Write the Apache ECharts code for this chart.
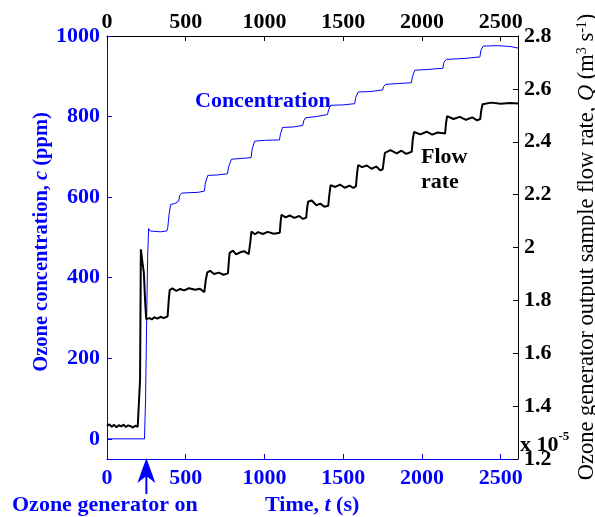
<!DOCTYPE html>
<html>
<head>
<meta charset="utf-8">
<script src="https://cdn.jsdelivr.net/npm/echarts@6/dist/echarts.min.js"></script>
<style>html,body{margin:0;padding:0;background:#fff;}#c{width:595px;height:517px;}</style>
</head>
<body>
<div id="c"></div>
<script>
// ---- data ----
const concTime = [0,238,245,252,258,264,275,300,340,380,386,395,405,430,455,462,475,520,580,618,625,640,700,765,772,790,850,915,922,937,1000,1095,1102,1115,1180,1243,1250,1262,1330,1400,1408,1420,1500,1573,1580,1595,1670,1750,1757,1770,1850,1933,1940,1955,2040,2133,2140,2155,2260,2368,2375,2390,2480,2560,2610];
const concValue = [0,0,100,300,450,522,516,515,514,516,525,560,582,584,590,605,610,611,612,615,635,654,655,658,675,694,696,698,720,739,741,742,758,773,774,778,790,797,800,805,818,828,829,832,848,861,862,866,875,880,882,884,900,915,917,920,935,942,944,948,965,975,976,974,970];
const flowTime = [0,15,30,45,60,75,90,105,120,135,150,165,180,195,205,210,215,228,234,242,249,260,270,285,300,320,340,360,385,392,398,415,440,465,490,520,560,590,600,618,628,637,655,680,710,740,768,774,779,800,820,845,870,900,910,917,940,960,990,1020,1060,1097,1103,1108,1135,1160,1190,1220,1245,1265,1271,1277,1300,1330,1355,1380,1405,1412,1420,1450,1480,1510,1540,1565,1581,1588,1595,1620,1650,1680,1710,1735,1751,1758,1765,1800,1840,1870,1900,1935,1942,1950,1990,2030,2065,2100,2147,2153,2160,2200,2240,2280,2320,2350,2370,2377,2385,2440,2500,2560,2610];
const flowValue = [1.325,1.331,1.322,1.329,1.320,1.328,1.323,1.330,1.321,1.327,1.324,1.319,1.326,1.322,1.326,1.5,1.993,1.93,1.905,1.8,1.729,1.722,1.733,1.728,1.736,1.731,1.738,1.733,1.740,1.80,1.839,1.845,1.836,1.843,1.838,1.846,1.840,1.844,1.837,1.831,1.88,1.906,1.912,1.900,1.905,1.897,1.902,1.95,1.980,1.988,1.974,1.982,1.986,1.975,2.02,2.060,2.050,2.058,2.051,2.059,2.052,2.056,2.10,2.123,2.114,2.121,2.112,2.119,2.108,2.113,2.15,2.173,2.178,2.160,2.166,2.154,2.158,2.20,2.236,2.229,2.238,2.226,2.234,2.225,2.232,2.28,2.312,2.304,2.310,2.298,2.306,2.292,2.296,2.33,2.358,2.368,2.356,2.366,2.354,2.362,2.41,2.437,2.428,2.438,2.427,2.435,2.431,2.47,2.497,2.486,2.494,2.483,2.492,2.481,2.486,2.52,2.542,2.548,2.544,2.547,2.545];
const xTicks = [0,500,1000,1500,2000,2500];
const leftTicks = [0,200,400,600,800,1000];
const rightTicks = [1.2,1.4,1.6,1.8,2,2.2,2.4,2.6,2.8];
const arrowTime = 250;

const BLUE = '#0000ff';
const FONT = 'Liberation Serif';

const chart = echarts.init(document.getElementById('c'), null, {renderer:'canvas'});
const lbl = (color, margin) => ({color, fontFamily: FONT, fontWeight: 'bold', fontSize: 22, margin,
  formatter: v => String(+v.toFixed(4))});

chart.setOption({
  animation: false,
  grid: {left: 107, right: 77, top: 36, bottom: 58, containLabel: false},
  xAxis: [
    {type:'value', position:'bottom', min:0, max:2610,
     axisLine:{show:true, onZero:false, lineStyle:{color:BLUE, width:1}},
     axisTick:{show:true, inside:true, length:5, customValues:xTicks, lineStyle:{color:BLUE}},
     axisLabel:Object.assign({customValues:xTicks}, lbl(BLUE, 8)),
     splitLine:{show:false}},
    {type:'value', position:'top', min:0, max:2610,
     axisLine:{show:true, onZero:false, lineStyle:{color:'#000', width:1}},
     axisTick:{show:true, inside:true, length:5, customValues:xTicks, lineStyle:{color:'#000'}},
     axisLabel:Object.assign({customValues:xTicks}, lbl('#000', 3)),
     splitLine:{show:false}}
  ],
  yAxis: [
    {type:'value', position:'left', min:-50, max:1000,
     axisLine:{show:true, onZero:false, lineStyle:{color:BLUE, width:1}},
     axisTick:{show:true, inside:true, length:5, customValues:leftTicks, lineStyle:{color:BLUE}},
     axisLabel:Object.assign({customValues:leftTicks}, lbl(BLUE, 7)),
     splitLine:{show:false}},
    {type:'value', position:'right', min:1.2, max:2.8,
     axisLine:{show:true, onZero:false, lineStyle:{color:'#000', width:1}},
     axisTick:{show:true, inside:true, length:5, customValues:rightTicks, lineStyle:{color:'#000'}},
     axisLabel:Object.assign({customValues:rightTicks}, lbl('#000', 6)),
     splitLine:{show:false}}
  ],
  series: [
    {type:'line', name:'Concentration', xAxisIndex:0, yAxisIndex:0, showSymbol:false, symbol:'none',
     data: concTime.map((t,i)=>[t, concValue[i]]), lineStyle:{color:BLUE, width:1}, z:2},
    {type:'line', name:'Flow rate', xAxisIndex:0, yAxisIndex:1, showSymbol:false, symbol:'none',
     data: flowTime.map((t,i)=>[t, flowValue[i]]), lineStyle:{color:'#000', width:2}, z:3}
  ]
});

const ax = chart.convertToPixel({xAxisIndex:0}, arrowTime);
const bottomY = chart.convertToPixel({yAxisIndex:0}, -50);

const bold22 = {fontFamily:FONT, fontWeight:'bold', fontSize:22};
chart.setOption({
  graphic: [
    {type:'text', silent:true, x:42, y:242, rotation:Math.PI/2,
     style:{text:'{n|Ozone concentration, }{i|c}{n| (ppm)}', align:'center', verticalAlign:'middle',
       rich:{n:{fill:BLUE, fontFamily:FONT, fontWeight:'bold', fontSize:20.5},
             i:{fill:BLUE, fontFamily:FONT, fontWeight:'bold', fontStyle:'italic', fontSize:20.5}}}},
    {type:'text', silent:true, x:587, y:247, rotation:Math.PI/2,
     style:{text:'{n|Ozone generator output sample flow rate, }{i|Q}{n| (m}{s|3}{n| s}{s|-1}{n|)}', align:'center', verticalAlign:'middle',
       rich:{n:{fill:'#000', fontFamily:FONT, fontSize:22.5, lineHeight:24, verticalAlign:'bottom'},
             i:{fill:'#000', fontFamily:FONT, fontStyle:'italic', fontSize:22.5, lineHeight:24, verticalAlign:'bottom'},
             s:{fill:'#000', fontFamily:FONT, fontSize:14, lineHeight:24, verticalAlign:'top'}}}},
    {type:'text', silent:true, x:520, y:443,
     style:{text:'{n|x 10}{s|-5}', align:'left', verticalAlign:'middle',
       rich:{n:{fill:'#000', fontFamily:FONT, fontWeight:'bold', fontSize:22, lineHeight:26, verticalAlign:'bottom'},
             s:{fill:'#000', fontFamily:FONT, fontWeight:'bold', fontSize:13, lineHeight:26, verticalAlign:'top'}}}},
    {type:'text', silent:true, x:195, y:101,
     style:Object.assign({text:'Concentration', fill:BLUE, align:'left', verticalAlign:'middle'}, bold22)},
    {type:'text', silent:true, x:421, y:170,
     style:Object.assign({text:'Flow\nrate', fill:'#000', align:'left', verticalAlign:'middle', lineHeight:25}, bold22)},
    {type:'text', silent:true, x:12, y:505,
     style:Object.assign({text:'Ozone generator on', fill:BLUE, align:'left', verticalAlign:'middle'}, bold22)},
    {type:'text', silent:true, x:265, y:505,
     style:{text:'{n|Time, }{i|t}{n| (s)}', align:'left', verticalAlign:'middle',
       rich:{n:{fill:BLUE, fontFamily:FONT, fontWeight:'bold', fontSize:22},
             i:{fill:BLUE, fontFamily:FONT, fontWeight:'bold', fontStyle:'italic', fontSize:22}}}},
    {type:'polygon', silent:true,
     shape:{points:[[ax, bottomY-1],[ax-9, bottomY+24],[ax, bottomY+17],[ax+9, bottomY+24]]},
     style:{fill:BLUE}},
    {type:'line', silent:true,
     shape:{x1:ax, y1:bottomY+17, x2:ax, y2:bottomY+35},
     style:{stroke:BLUE, lineWidth:2}}
  ]
});
</script>
</body>
</html>
